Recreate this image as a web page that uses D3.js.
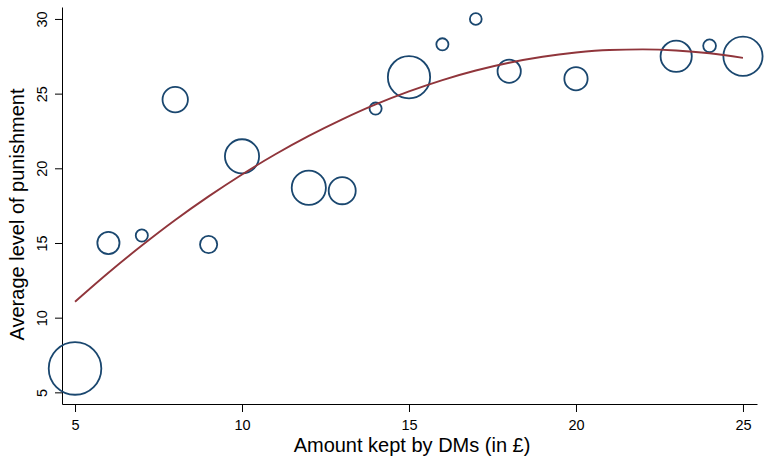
<!DOCTYPE html>
<html>
<head>
<meta charset="utf-8">
<script src="https://cdn.jsdelivr.net/npm/d3@7"></script>
<style>
  html, body { margin: 0; padding: 0; background: #ffffff; }
  svg { display: block; }
  text { font-family: "Liberation Sans", Arial, Helvetica, sans-serif; fill: #000; }
</style>
</head>
<body>
<div id="chart"></div>
<script>
// ---- data ----
const amountKept = [5, 6, 7, 8, 9, 10, 12, 13, 14, 15, 16, 17, 18, 20, 23, 24, 25];
const avgPunishment = [6.6, 15.0, 15.5, 24.6, 14.9, 20.8, 18.7, 18.5, 24.0, 26.1, 28.3, 30.0, 26.5, 26.0, 27.5, 28.2, 27.5];
const weights = [16, 3.1, 1.05, 4, 1.95, 7, 7, 4.5, 1.05, 10.5, 1.05, 1, 3.4, 3.4, 5.9, 1.15, 9.1];

// fitted (quadratic) line
const fitX = [5, 6, 7, 8, 9, 10, 11, 12, 13, 14, 15, 16, 17, 18, 19, 20, 21, 22, 23, 24, 25];
const fitY = [11.07, 13.01, 14.83, 16.54, 18.12, 19.59, 20.94, 22.17, 23.28, 24.28, 25.15,
              25.91, 26.55, 27.07, 27.47, 27.75, 27.92, 27.96, 27.89, 27.70, 27.39];

const xTicks = [5, 10, 15, 20, 25];
const yTicks = [5, 10, 15, 20, 25, 30];
const xTitle = "Amount kept by DMs (in £)";
const yTitle = "Average level of punishment";

// ---- layout ----
const W = 765, H = 457;
const navy = "#1a476f", maroon = "#90353b";

const svg = d3.select("#chart").append("svg")
  .attr("width", W).attr("height", H);

const x = d3.scaleLinear().domain([4.61, 25.42]).range([62, 757]);
const y = d3.scaleLinear().domain([4.22, 30.8]).range([404, 7]);
const r = d3.scaleSqrt().domain([0, 1]).range([0, 6.8]);

// x axis
const gx = svg.append("g")
  .attr("transform", `translate(0,${y.range()[0]})`)
  .call(d3.axisBottom(x).tickValues(xTicks).tickSize(8).tickSizeOuter(0).tickFormat(d3.format("d")));
gx.selectAll("text").attr("y", 26).attr("dy", 0).style("font-size", "14.5px");

// y axis
const gy = svg.append("g")
  .attr("transform", `translate(${x.range()[0]},0)`)
  .call(d3.axisLeft(y).tickValues(yTicks).tickSize(7).tickSizeOuter(0).tickFormat(d3.format("d")));
gy.selectAll("text")
  .attr("transform", "rotate(-90)")
  .attr("x", 0).attr("y", -15).attr("dy", 0)
  .attr("text-anchor", "middle")
  .style("font-size", "14.5px");

svg.selectAll(".domain, .tick line").attr("stroke", "#000").attr("stroke-width", 1);
svg.selectAll("g").attr("font-family", null);

// bubbles
svg.append("g").selectAll("circle")
  .data(amountKept.map((d, i) => ({ x: d, y: avgPunishment[i], w: weights[i] })))
  .join("circle")
  .attr("cx", d => x(d.x))
  .attr("cy", d => y(d.y))
  .attr("r", d => r(d.w) - 0.9)
  .attr("fill", "none")
  .attr("stroke", navy)
  .attr("stroke-width", 1.8);

// fitted line
const line = d3.line()
  .x(d => x(d[0]))
  .y(d => y(d[1]))
  .curve(d3.curveMonotoneX);
svg.append("path")
  .datum(fitX.map((d, i) => [d, fitY[i]]))
  .attr("d", line)
  .attr("fill", "none")
  .attr("stroke", maroon)
  .attr("stroke-width", 1.9);

// titles
svg.append("text")
  .attr("x", 412).attr("y", 451.5)
  .attr("text-anchor", "middle")
  .style("font-size", "20px")
  .text(xTitle);

svg.append("text")
  .attr("transform", "translate(24,214.5) rotate(-90)")
  .attr("text-anchor", "middle")
  .style("font-size", "20px")
  .text(yTitle);
</script>
</body>
</html>
